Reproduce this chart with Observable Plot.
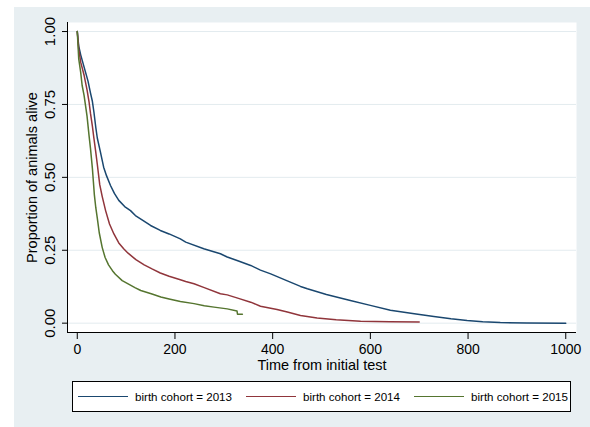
<!DOCTYPE html>
<html><head><meta charset="utf-8">
<script src="https://cdn.jsdelivr.net/npm/d3@7"></script>
<script src="https://cdn.jsdelivr.net/npm/@observablehq/plot@0.6"></script>
<style>
html,body{margin:0;padding:0;background:#fff;}
#wrap{position:relative;width:590px;height:427px;overflow:hidden;font-family:"Liberation Sans",Arial,sans-serif;}
#bg{position:absolute;left:14px;top:7px;right:0;bottom:0;background:#e8eff2;}
#chart{position:absolute;left:0;top:0;}
#legend{position:absolute;left:72px;top:381px;width:497px;height:29px;background:#fff;border:1px solid #000;display:flex;align-items:center;}
.item{display:flex;align-items:center;width:168px;flex:none;}
.item .sw{width:50px;height:0;border-top:1.5px solid;margin-left:5px;margin-right:7px;}
.item span{font-size:11.6px;white-space:nowrap;color:#000;}
</style>
</head><body>
<div id="wrap"><div id="bg"></div><div id="chart"></div><div id="legend"></div></div>
<script>
const cohorts = ["2013", "2014", "2015"];
const colors = ["#1a476f", "#90353b", "#55752f"];
const legendLabels = ["birth cohort = 2013", "birth cohort = 2014", "birth cohort = 2015"];
const xTitle = "Time from initial test";
const yTitle = "Proportion of animals alive";
const xTicks = [0, 200, 400, 600, 800, 1000];
const yTicks = [0, 0.25, 0.5, 0.75, 1];

const time2013 = [0,3,7,12,17,22,27,31,34,38,41,47,54,60,68,76,85,97,109,119,135,150,170,188,211,222,259,293,307,330,355,375,396,430,457,471,510,559,600,641,690,730,765,798,830,866,920,1000];
const surv2013 = [1,0.95,0.92,0.89,0.86,0.83,0.79,0.76,0.725,0.67,0.635,0.59,0.535,0.505,0.472,0.445,0.421,0.40,0.386,0.369,0.352,0.335,0.318,0.306,0.289,0.278,0.255,0.238,0.227,0.213,0.198,0.182,0.169,0.145,0.126,0.118,0.098,0.078,0.061,0.044,0.032,0.023,0.015,0.009,0.005,0.002,0.001,0.0];

const time2014 = [0,3,7,14,20,24,27,31,34,38,41,46,51,58,66,75,85,95,104,120,137,153,170,188,211,222,239,260,293,307,330,355,375,409,430,457,491,530,580,640,700];
const surv2014 = [1,0.94,0.895,0.85,0.80,0.76,0.72,0.675,0.635,0.585,0.545,0.475,0.435,0.386,0.34,0.306,0.275,0.255,0.24,0.218,0.2,0.186,0.172,0.161,0.149,0.143,0.135,0.122,0.101,0.097,0.085,0.072,0.058,0.047,0.038,0.026,0.018,0.012,0.007,0.005,0.004];

const time2015 = [0,3,7,10,14,17,20,24,27,29,31,33,35,38,41,45,51,57,64,72,78,92,106,118,130,153,171,188,211,239,260,280,307,327,328,338];
const surv2015 = [1,0.906,0.86,0.815,0.78,0.745,0.71,0.645,0.6,0.565,0.53,0.485,0.44,0.395,0.36,0.31,0.26,0.225,0.2,0.18,0.168,0.146,0.133,0.122,0.112,0.1,0.09,0.083,0.074,0.067,0.06,0.055,0.049,0.042,0.031,0.031];

const rows = [];
[[time2013, surv2013, "2013"], [time2014, surv2014, "2014"], [time2015, surv2015, "2015"]]
  .forEach(([t, s, c]) => t.forEach((ti, i) => rows.push({time: ti, surv: s[i], cohort: c})));

const fmt = d3.format(".2f");

const chart = Plot.plot({
  width: 590, height: 376,
  marginLeft: 67, marginRight: 14, marginTop: 22, marginBottom: 44,
  style: {fontFamily: "'Liberation Sans', Arial, sans-serif", background: "transparent", overflow: "visible", color: "#000"},
  x: {domain: [-20, 1022], label: null},
  y: {domain: [-0.032, 1.031], label: null},
  color: {domain: cohorts, range: colors},
  marks: [
    Plot.frame({fill: "white", stroke: "none"}),
    Plot.ruleY(yTicks, {stroke: "#e3ebef", strokeWidth: 1}),
    Plot.line(rows, {x: "time", y: "surv", z: "cohort", stroke: "cohort", strokeWidth: 1.5}),
    Plot.ruleX([-20], {stroke: "#000"}),
    Plot.ruleY([-0.032], {stroke: "#000"}),
    Plot.axisY(yTicks, {tickSize: 5, tickFormat: () => "", label: null}),
    Plot.text(yTicks, {y: d => d, text: d => fmt(d), frameAnchor: "left", rotate: -90, textAnchor: "middle", lineAnchor: "bottom", dx: -13, fontSize: 15, fill: "#000", ariaLabel: "ytick-labels"}),
    Plot.axisX(xTicks, {tickSize: 7, tickPadding: 5, fontSize: 14, label: null, tickFormat: d => String(d)}),
    Plot.text([yTitle], {text: d => d, frameAnchor: "left", rotate: -90, textAnchor: "middle", lineAnchor: "bottom", dx: -31, fontSize: 14.5, fill: "#000"}),
    Plot.text([xTitle], {text: d => d, frameAnchor: "bottom", textAnchor: "middle", lineAnchor: "bottom", dy: 37.5, fontSize: 14.5, fill: "#000"})
  ]
});

d3.select(chart).selectAll('g[aria-label="ytick-labels"] text').each(function() {
  const t = this.getAttribute("transform") || "";
  this.setAttribute("transform", t + " scale(1,0.75)");
});

document.getElementById("chart").appendChild(chart);

const legend = d3.select("#legend");
cohorts.forEach((c, i) => {
  const item = legend.append("div").attr("class", "item");
  item.append("div").attr("class", "sw").style("border-top-color", colors[i]);
  item.append("span").text(legendLabels[i]);
});
</script>
</body></html>
